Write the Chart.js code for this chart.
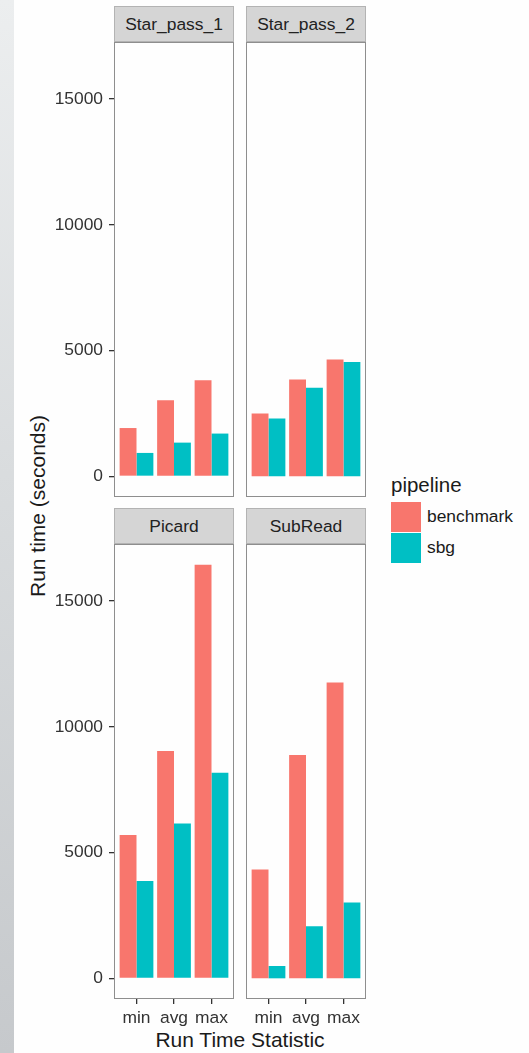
<!DOCTYPE html>
<html>
<head>
<meta charset="utf-8">
<title>Run time by pipeline</title>
<script src="https://cdn.jsdelivr.net/npm/chart.js@4.4.1/dist/chart.umd.min.js"></script>
<style>
  html, body { margin: 0; padding: 0; background: #ffffff; }
  #stage {
    position: relative; width: 529px; height: 1053px; overflow: hidden;
    background: #fefefe;
    font-family: "Liberation Sans", Arial, Helvetica, sans-serif; color: #1a1a1a;
  }
  #edge {
    position: absolute; left: 0; top: 0; width: 14px; height: 1053px;
    background: linear-gradient(to bottom, #eceeef 0%, #d9dcde 45%, #c6c9cc 100%);
  }
  .strip {
    position: absolute; height: 36px; box-sizing: border-box;
    background: #d5d5d5; border: 1px solid #b3b3b3;
    font-size: 17.4px; line-height: 34px; text-align: center; color: #222;
  }
  canvas.panel { position: absolute; }
  #ytitle {
    position: absolute; left: 37px; top: 506px; white-space: nowrap;
    font-size: 21px; line-height: 21px;
    transform: translate(-50%, -50%) rotate(-90deg);
  }
  #xtitle {
    position: absolute; left: 240px; top: 1029px; white-space: nowrap;
    font-size: 21px; line-height: 21px; transform: translateX(-50%);
  }
  #legend { position: absolute; left: 391px; top: 473px; }
  #legend .ltitle { font-size: 20.5px; line-height: 24px; margin-bottom: 4px; }
  #legend .item { display: flex; align-items: center; height: 31px; }
  #legend .key { width: 30px; height: 30px; margin-right: 6px; }
  #legend .lab { font-size: 17.4px; }
</style>
</head>
<body>
<div id="stage">
  <div id="edge"></div>
  <div id="ytitle">Run time (seconds)</div>
  <div id="xtitle">Run Time Statistic</div>
  <div id="legend"></div>
</div>
<script>
// Categories, series and facet names
const stats = ['min', 'avg', 'max'];
const series = ['benchmark', 'sbg'];
const seriesColors = ['#F8766D', '#00BFC4'];
const panelNames = ['Star_pass_1', 'Star_pass_2', 'Picard', 'SubRead'];
const legendTitle = 'pipeline';

// Run time in seconds, per facet and pipeline (min, avg, max)
const starPass1Benchmark = [1920, 3030, 3820];
const starPass1Sbg       = [930, 1340, 1700];
const starPass2Benchmark = [2500, 3850, 4650];
const starPass2Sbg       = [2300, 3520, 4550];
const picardBenchmark    = [5700, 9040, 16450];
const picardSbg          = [3870, 6160, 8180];
const subReadBenchmark   = [4330, 8880, 11760];
const subReadSbg         = [490, 2070, 3020];

// Shared y tick labels
const yTicks = [0, 5000, 10000, 15000];

const FONT = '"Liberation Sans", Arial, Helvetica, sans-serif';

// Shared (fixed) y range with 5% expansion, discrete x expanded by 0.6
const allValues = [].concat(starPass1Benchmark, starPass1Sbg, starPass2Benchmark, starPass2Sbg,
                            picardBenchmark, picardSbg, subReadBenchmark, subReadSbg);
const yTop = Math.max(...allValues);
const yPad = yTop * 0.05;
const Y_MIN = -yPad, Y_MAX = yTop + yPad;
const X_MIN = 1 - 0.6, X_MAX = stats.length + 0.6;

// Panel frame drawn around the plotting area
const panelBorder = {
  id: 'panelBorder',
  afterDraw(chart) {
    const { ctx, chartArea: a } = chart;
    ctx.save();
    ctx.strokeStyle = '#8e8e8e';
    ctx.lineWidth = 1;
    ctx.strokeRect(a.left + 0.5, a.top + 0.5, a.right - a.left - 1, a.bottom - a.top - 1);
    ctx.restore();
  }
};

const stage = document.getElementById('stage');

function addStrip(text, left, top, width) {
  const s = document.createElement('div');
  s.className = 'strip';
  s.style.left = left + 'px';
  s.style.top = top + 'px';
  s.style.width = width + 'px';
  s.textContent = text;
  stage.appendChild(s);
}

function makePanel(opts) {
  const { bench, sbg, left, top, width, height, showY, showX, yAxisWidth, xAxisHeight } = opts;
  const canvas = document.createElement('canvas');
  canvas.className = 'panel';
  canvas.width = width;
  canvas.height = height;
  canvas.style.left = left + 'px';
  canvas.style.top = top + 'px';
  canvas.style.width = width + 'px';
  canvas.style.height = height + 'px';
  stage.appendChild(canvas);

  const tickGrid = { offset: false, drawOnChartArea: false, drawTicks: true, tickLength: 5, color: '#333333', lineWidth: 1.3 };

  new Chart(canvas, {
    type: 'bar',
    data: {
      datasets: [
        { label: series[0], data: bench.map((v, i) => ({ x: i + 1, y: v })), backgroundColor: seriesColors[0] },
        { label: series[1], data: sbg.map((v, i) => ({ x: i + 1, y: v })), backgroundColor: seriesColors[1] }
      ]
    },
    options: {
      responsive: false,
      animation: false,
      events: [],
      layout: { padding: 0 },
      datasets: { bar: { categoryPercentage: 0.9, barPercentage: 1, borderWidth: 0 } },
      plugins: { legend: { display: false }, tooltip: { enabled: false }, title: { display: false } },
      scales: {
        x: {
          type: 'linear', min: X_MIN, max: X_MAX, offset: false, display: showX,
          afterBuildTicks: s => { s.ticks = stats.map((_, i) => ({ value: i + 1 })); },
          afterFit: s => { s.height = showX ? xAxisHeight : 0; s.paddingLeft = 0; s.paddingRight = 0; },
          grid: tickGrid,
          border: { display: false },
          ticks: {
            callback: v => stats[v - 1] ?? '',
            autoSkip: false, maxRotation: 0, padding: 4,
            color: '#333333', font: { family: FONT, size: 17.4 }
          }
        },
        y: {
          type: 'linear', min: Y_MIN, max: Y_MAX, display: showY,
          afterBuildTicks: s => { s.ticks = yTicks.map(v => ({ value: v })); },
          afterFit: s => { s.width = showY ? yAxisWidth : 0; s.paddingTop = 0; s.paddingBottom = 0; },
          grid: tickGrid,
          border: { display: false },
          ticks: {
            callback: v => String(v),
            padding: 6, color: '#333333', font: { family: FONT, size: 17.4 }
          }
        }
      }
    },
    plugins: [panelBorder]
  });
}

// Facet grid geometry
const colLeft = [114, 246];
const panelW = 120;
const rowStripTop = [6, 508];
const stripH = 36;
const bodyH = 455;
const yAxisW = 84;
const xAxisH = 32;

const panelData = [
  [starPass1Benchmark, starPass1Sbg],
  [starPass2Benchmark, starPass2Sbg],
  [picardBenchmark, picardSbg],
  [subReadBenchmark, subReadSbg]
];

panelData.forEach(([bench, sbg], idx) => {
  const row = Math.floor(idx / 2), col = idx % 2;
  const bodyTop = rowStripTop[row] + stripH;
  const showY = col === 0, showX = row === 1;
  addStrip(panelNames[idx], colLeft[col], rowStripTop[row], panelW);
  makePanel({
    bench, sbg,
    left: colLeft[col] - (showY ? yAxisW : 0),
    top: bodyTop,
    width: panelW + (showY ? yAxisW : 0),
    height: bodyH + (showX ? xAxisH : 0),
    showY, showX, yAxisWidth: yAxisW, xAxisHeight: xAxisH
  });
});

// Legend for the fill scale
const legend = document.getElementById('legend');
const lt = document.createElement('div');
lt.className = 'ltitle';
lt.textContent = legendTitle;
legend.appendChild(lt);
series.forEach((name, i) => {
  const item = document.createElement('div');
  item.className = 'item';
  const key = document.createElement('div');
  key.className = 'key';
  key.style.background = seriesColors[i];
  const lab = document.createElement('div');
  lab.className = 'lab';
  lab.textContent = name;
  item.appendChild(key);
  item.appendChild(lab);
  legend.appendChild(item);
});
</script>
</body>
</html>
